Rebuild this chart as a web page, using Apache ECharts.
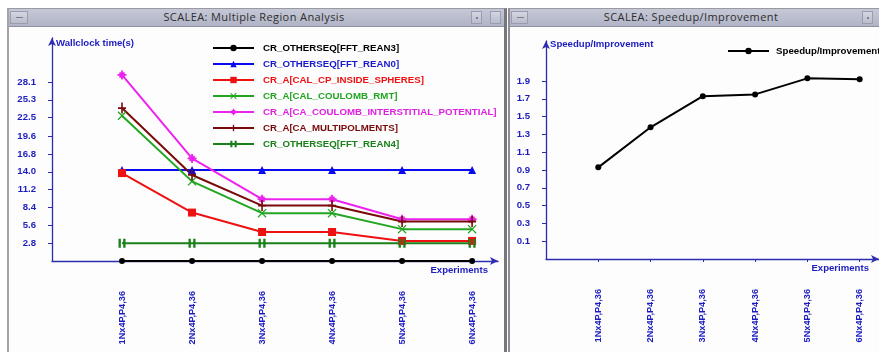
<!DOCTYPE html>
<html>
<head>
<meta charset="utf-8">
<script src="https://cdn.jsdelivr.net/npm/echarts@6/dist/echarts.min.js"></script>
<style>
  html, body { margin: 0; padding: 0; background: #ffffff; }
  body { width: 879px; height: 352px; position: relative; overflow: hidden; }
  .win { position: absolute; box-sizing: border-box; background: #fdfdfd; }
  .bar { position: absolute; left: 0; right: 0; top: 0; height: 18px;
         background: linear-gradient(#c5c8d6, #b0b4c6); border-bottom: 1px solid #8d90a0;
         box-sizing: border-box; }
  .ttl { position: absolute; top: 0px; font: 11px "Open Sans", "DejaVu Sans", sans-serif; letter-spacing: 0.4px;
         line-height: 16px; color: #2e2e2e; white-space: nowrap; text-align: center; }
  .btn { position: absolute; top: 2px; height: 13px; box-sizing: border-box;
         border: 1px solid #9a9daf; background: linear-gradient(#d4d6e0, #b9bccb); }
  .dash { position: absolute; left: 5px; top: 5px; width: 7px; height: 1px; background: #7c7f90; }
  .dot  { position: absolute; left: 4px; top: 5px; width: 2px; height: 2px; background: #7c7f90; }
  #chart { position: absolute; left: 0; top: 0; width: 879px; height: 352px; z-index: 2; }
</style>
</head>
<body>
<!-- left window frame -->
<div class="win" style="left:7px;top:8px;width:500px;height:346px;border-left:2px solid #a4a4a8;border-top:1px solid #9a9aa0;border-right:3px solid #76767c;border-bottom:1px solid #c8c8cc;">
  <div class="bar">
    <div class="btn" style="left:1px;width:18px;"><div class="dash"></div></div>
    <div class="ttl" style="left:60px;width:370px;">SCALEA: Multiple Region Analysis</div>
    <div class="btn" style="left:462px;width:11px;"><div class="dot"></div></div>
    <div class="btn" style="left:481px;width:11px;"></div>
  </div>
</div>
<!-- right window frame -->
<div class="win" style="left:508px;top:8px;width:390px;height:346px;border-left:2px solid #8c8c92;border-top:1px solid #9a9aa0;border-bottom:1px solid #c8c8cc;">
  <div class="bar">
    <div class="btn" style="left:1px;width:17px;"><div class="dash"></div></div>
    <div class="ttl" style="left:0px;width:362px;">SCALEA: Speedup/Improvement</div>
    <div class="btn" style="left:352px;width:11px;"><div class="dot"></div></div>
    <div class="btn" style="left:369px;width:11px;"></div>
  </div>
</div>
<div id="chart"></div>
<script>
// experiment configurations along the x axis
const experiments = ['1Nx4P,P4,36', '2Nx4P,P4,36', '3Nx4P,P4,36', '4Nx4P,P4,36', '5Nx4P,P4,36', '6Nx4P,P4,36'];

// tick labels
const wallTicks = [2.8, 5.6, 8.4, 11.2, 14.0, 16.8, 19.6, 22.5, 25.3, 28.1];
const speedTicks = [0.1, 0.3, 0.5, 0.7, 0.9, 1.1, 1.3, 1.5, 1.7, 1.9];

// wallclock time (s) per code region
const names = [
  'CR_OTHERSEQ[FFT_REAN3]',
  'CR_OTHERSEQ[FFT_REAN0]',
  'CR_A[CAL_CP_INSIDE_SPHERES]',
  'CR_A[CAL_COULOMB_RMT]',
  'CR_A[CA_COULOMB_INTERSTITIAL_POTENTIAL]',
  'CR_A[CA_MULTIPOLMENTS]',
  'CR_OTHERSEQ[FFT_REAN4]'
];
const fftRean3 = [0, 0, 0, 0, 0, 0];
const fftRean0 = [14.3, 14.3, 14.3, 14.3, 14.3, 14.3];
const cpInsideSpheres = [13.8, 7.6, 4.55, 4.55, 3.15, 3.15];
const coulombRmt = [22.8, 12.5, 7.5, 7.5, 5.0, 5.0];
const interstitialPotential = [29.2, 16.1, 9.7, 9.7, 6.55, 6.55];
const multipolments = [24.0, 13.5, 8.7, 8.7, 6.2, 6.2];
const fftRean4 = [2.8, 2.8, 2.8, 2.8, 2.8, 2.8];

// speedup relative to the first experiment
const speedupName = 'Speedup/Improvement';
const speedup = [0.93, 1.38, 1.73, 1.75, 1.93, 1.92];

const seriesValues = [fftRean3, fftRean0, cpInsideSpheres, coulombRmt, interstitialPotential, multipolments, fftRean4];
const colors = ['#000000', '#0a0aee', '#ee1111', '#22a622', '#ee22ee', '#7a0a0a', '#1a801a'];
const textColors = ['#000000', '#1a1acc', '#ee1111', '#22a622', '#e020e0', '#7a0a0a', '#1a801a'];
const symbols = [
  'circle',
  'triangle',
  'rect',
  'path://M0,1L1,0L5,4L9,0L10,1L6,5L10,9L9,10L5,6L1,10L0,9L4,5Z',
  'path://M2,2H8V8H2Z M4,0H6V10H4Z M0,4H10V6H0Z',
  'path://M4,0H6V10H4Z M0,4.2H10V5.8H0Z',
  'path://M2,0H4V10H2Z M6,0H8V10H6Z'
];
const symbolSizes = [6, 8, 8, 9, 9, [8, 11], [7, 9]];

const axisBlue = '#2c2cb0';
const labelBlue = '#1c1cc0';
const fontFam = '"Liberation Sans", Arial, sans-serif';
const fs = 9.6;

const toPairs = arr => arr.map((v, i) => [i + 1, v]);
const catPositions = experiments.map((c, i) => i + 1);

function xAxisCfg(gridIndex, showTicks) {
  return {
    gridIndex, type: 'value', min: 0, max: 6.37,
    name: 'Experiments', nameLocation: 'end', nameGap: -10,
    nameTextStyle: { color: labelBlue, fontWeight: 'bold', fontSize: fs, fontFamily: fontFam,
                     align: 'right', verticalAlign: 'top', padding: [4, 0, 0, 0] },
    axisLine: { show: true, onZero: false, lineStyle: { color: axisBlue, width: 1.3 },
                symbol: ['none', 'arrow'], symbolSize: [6, 8] },
    axisTick: { show: showTicks, length: 3, customValues: catPositions, lineStyle: { color: axisBlue } },
    axisLabel: { customValues: catPositions, rotate: 90, margin: 30, color: labelBlue, fontWeight: 'bold',
                 fontSize: 9.2, fontFamily: fontFam, formatter: v => experiments[Math.round(v) - 1] },
    splitLine: { show: false }
  };
}

function yAxisCfg(gridIndex, name, min, max, ticks, gap) {
  return {
    gridIndex, type: 'value', min, max,
    name, nameLocation: 'end', nameGap: gap,
    nameTextStyle: { color: labelBlue, fontWeight: 'bold', fontSize: fs, fontFamily: fontFam,
                     align: 'left', verticalAlign: 'middle', padding: [0, 0, 0, 4] },
    axisLine: { show: true, onZero: false, lineStyle: { color: axisBlue, width: 1.3 },
                symbol: ['none', 'arrow'], symbolSize: [6, 8] },
    axisTick: { show: true, length: 4, customValues: ticks, lineStyle: { color: axisBlue } },
    axisLabel: { customValues: ticks, margin: 16, color: labelBlue, fontWeight: 'bold', fontSize: fs,
                 fontFamily: fontFam, formatter: v => v.toFixed(1) },
    splitLine: { show: false }
  };
}

const series = names.map((n, i) => ({
  name: n, type: 'line', xAxisIndex: 0, yAxisIndex: 0,
  data: toPairs(seriesValues[i]),
  symbol: symbols[i], symbolSize: symbolSizes[i], showSymbol: true,
  lineStyle: { color: colors[i], width: 2 },
  itemStyle: { color: colors[i] },
  animation: false
}));
series.push({
  name: speedupName, type: 'line', xAxisIndex: 1, yAxisIndex: 1,
  data: toPairs(speedup), symbol: 'circle', symbolSize: 6,
  lineStyle: { color: '#000', width: 2 }, itemStyle: { color: '#000' }, animation: false
});

const chart = echarts.init(document.getElementById('chart'), null, { renderer: 'canvas' });
chart.setOption({
  backgroundColor: 'transparent',
  animation: false,
  grid: [
    { left: 52, top: 38, width: 446, height: 223 },
    { left: 546, top: 41, width: 335, height: 218 }
  ],
  xAxis: [xAxisCfg(0, false), xAxisCfg(1, true)],
  yAxis: [
    yAxisCfg(0, 'Wallclock time(s)', 0, 35, wallTicks, -5),
    yAxisCfg(1, speedupName, -0.1, 2.35, speedTicks, -3)
  ],
  legend: [
    {
      orient: 'vertical', left: 212, top: 43, padding: 0, itemWidth: 41, itemHeight: 8, itemGap: 6,
      data: names.map((n, i) => ({ name: n, textStyle: { color: textColors[i] } })),
      textStyle: { fontWeight: 'bold', fontSize: 9.7, fontFamily: fontFam, padding: [0, 0, 0, 4] },
      selectedMode: false
    },
    {
      orient: 'vertical', left: 727, top: 46, padding: 0, itemWidth: 41, itemHeight: 8,
      data: [speedupName],
      textStyle: { color: '#000', fontWeight: 'bold', fontSize: 9.7, fontFamily: fontFam, padding: [0, 0, 0, 2] },
      selectedMode: false
    }
  ],
  series
});
</script>
</body>
</html>
